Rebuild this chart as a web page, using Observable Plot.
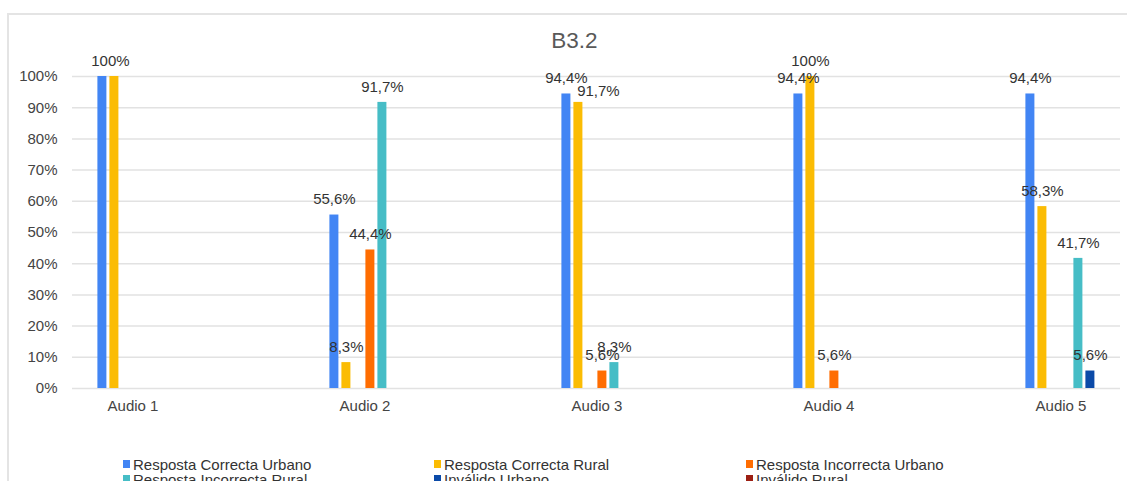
<!DOCTYPE html>
<html>
<head>
<meta charset="utf-8">
<script src="https://cdn.jsdelivr.net/npm/d3@7"></script>
<script src="https://cdn.jsdelivr.net/npm/@observablehq/plot@0.6"></script>
<style>
  html, body { margin: 0; padding: 0; background: #fff; overflow: hidden; }
  body { width: 1127px; height: 481px; position: relative; font-family: "Liberation Sans", Arial, sans-serif; }
  #frame { position: absolute; left: 7px; top: 13px; width: 1200px; height: 600px; border-left: 2px solid #e4e4e4; border-top: 2px solid #e4e4e4; }
  #title { position: absolute; left: 0; top: 30px; width: 1149px; text-align: center; font-size: 22.5px; line-height: 1; color: #595959; }
  .layer { position: absolute; left: 0; top: 0; }
  #legend { position: absolute; left: 123px; top: 456.5px; display: grid; grid-template-columns: 311px 312px 311px; grid-auto-rows: 15px; font-size: 15px; line-height: 15px; color: #333; }
  #legend .item { white-space: nowrap; display: flex; align-items: center; }
  #legend .sw { display: inline-block; width: 7px; height: 8px; margin-right: 3px; }
</style>
</head>
<body>
<div id="frame"></div>
<div id="title"></div>
<div id="grid" class="layer"></div>
<div id="bars" class="layer"></div>
<div id="legend"></div>
<script>
const title = "B3.2";
const audios = ["Audio 1", "Audio 2", "Audio 3", "Audio 4", "Audio 5"];
const series = ["Resposta Correcta Urbano", "Resposta Correcta Rural", "Resposta Incorrecta Urbano", "Resposta Incorrecta Rural", "Inválido Urbano", "Inválido Rural"];
const colors = ["#4285f4", "#fbbc04", "#ff6d01", "#46bdc6", "#0b4aa8", "#9c1f13"];
// values in percent, one entry per audio
const respostaCorrectaUrbano   = [100, 55.6, 94.4, 94.4, 94.4];
const respostaCorrectaRural    = [100, 8.3, 91.7, 100, 58.3];
const respostaIncorrectaUrbano = [0, 44.4, 5.6, 5.6, 0];
const respostaIncorrectaRural  = [0, 91.7, 8.3, 0, 41.7];
const invalidoUrbano           = [0, 0, 0, 0, 5.6];
const invalidoRural            = [0, 0, 0, 0, 0];
const yTicks = [0, 10, 20, 30, 40, 50, 60, 70, 80, 90, 100];
// slot order of the bars inside each group, as in the original
const slotOrder = ["Resposta Correcta Urbano", "Resposta Correcta Rural", "Inválido Rural", "Resposta Incorrecta Urbano", "Resposta Incorrecta Rural", "Inválido Urbano"];

const valuesBySeries = [respostaCorrectaUrbano, respostaCorrectaRural, respostaIncorrectaUrbano, respostaIncorrectaRural, invalidoUrbano, invalidoRural];
const rows = [];
audios.forEach((a, i) => series.forEach((s, j) => rows.push({audio: a, series: s, value: valuesBySeries[j][i]})));

const fmt = v => (v === 100 ? "100" : v.toFixed(1).replace(".", ",")) + "%";
const isAt = (d, a, s) => d.audio === a && d.series === s;
const labelled = rows.filter(d => d.value > 0 && !isAt(d, "Audio 1", "Resposta Correcta Urbano"));
const normal = labelled.filter(d => !isAt(d, "Audio 1", "Resposta Correcta Rural") && !isAt(d, "Audio 3", "Resposta Correcta Rural"));

document.getElementById("title").textContent = title;

const common = {width: 1127, height: 420, marginTop: 76, marginBottom: 32};
const font = "Liberation Sans, Arial, sans-serif";

const gridPlot = Plot.plot({
  ...common,
  marginLeft: 72, marginRight: 7,
  style: {background: "transparent", fontFamily: font, fontSize: "15px", color: "#444"},
  x: {axis: null},
  y: {domain: [0, 100], ticks: yTicks, tickFormat: d => d + "%", tickSize: 0, tickPadding: 15, label: null},
  marks: [
    Plot.ruleY(yTicks, {stroke: "#e2e2e2", strokeWidth: 1.5})
  ]
});
document.getElementById("grid").appendChild(gridPlot);

const textStyle = {fill: "#333", fontSize: 15, fontFamily: font};
const barsPlot = Plot.plot({
  ...common,
  marginLeft: 93.6, marginRight: 28.4,
  style: {background: "transparent", fontFamily: font, fontSize: "15px", color: "#444", overflow: "visible"},
  fx: {domain: audios, paddingInner: 0.686, paddingOuter: 0, label: null, axis: "bottom", tickSize: 0, tickPadding: 12},
  x: {domain: slotOrder, paddingInner: 0.22, paddingOuter: 0.11, axis: null},
  y: {domain: [0, 100], axis: null},
  color: {domain: series, range: colors},
  marks: [
    Plot.barY(rows, {fx: "audio", x: "series", y: "value", fill: "series"}),
    Plot.text(normal, {fx: "audio", x: "series", y: "value", text: d => fmt(d.value), dy: -15.5, ...textStyle}),
    Plot.text(labelled.filter(d => isAt(d, "Audio 1", "Resposta Correcta Rural")), {fx: "audio", x: "series", y: "value", text: d => fmt(d.value), dy: -15.5, dx: -4, ...textStyle}),
    Plot.text(labelled.filter(d => isAt(d, "Audio 3", "Resposta Correcta Rural")), {fx: "audio", x: "series", y: "value", text: d => fmt(d.value), dy: -11.5, dx: 20, ...textStyle})
  ]
});
document.getElementById("bars").appendChild(barsPlot);

const legend = document.getElementById("legend");
series.forEach((s, i) => {
  const item = document.createElement("div");
  item.className = "item";
  const sw = document.createElement("span");
  sw.className = "sw";
  sw.style.background = colors[i];
  item.appendChild(sw);
  item.appendChild(document.createTextNode(s));
  legend.appendChild(item);
});
</script>
</body>
</html>
